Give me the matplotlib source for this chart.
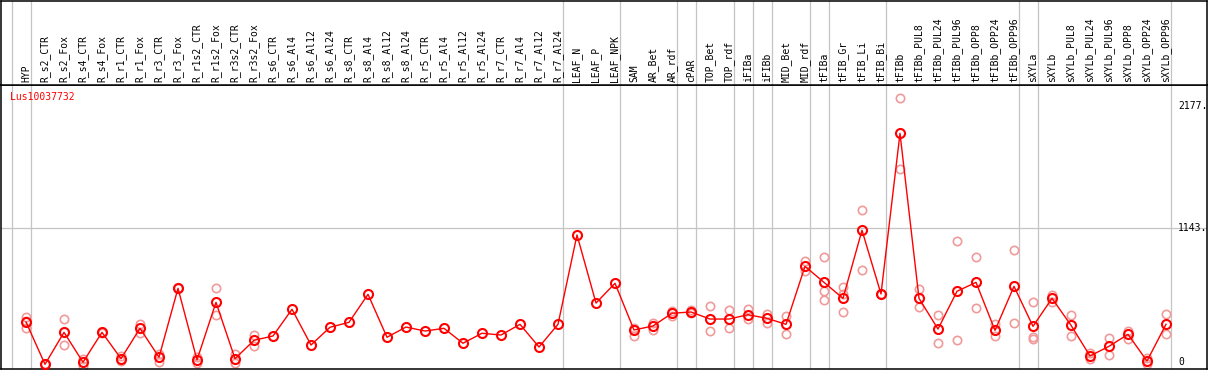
import numpy as np
import matplotlib
matplotlib.use("Agg")
import matplotlib.pyplot as plt
import matplotlib.transforms as mtransforms

categories = ["HYP", "R_s2_CTR", "R_s2_Fox", "R_s4_CTR", "R_s4_Fox", "R_r1_CTR", "R_r1_Fox",
              "R_r3_CTR", "R_r3_Fox", "R_r1s2_CTR", "R_r1s2_Fox", "R_r3s2_CTR", "R_r3s2_Fox",
              "R_s6_CTR", "R_s6_Al4", "R_s6_Al12", "R_s6_Al24", "R_s8_CTR", "R_s8_Al4",
              "R_s8_Al12", "R_s8_Al24", "R_r5_CTR", "R_r5_Al4", "R_r5_Al12", "R_r5_Al24",
              "R_r7_CTR", "R_r7_Al4", "R_r7_Al12", "R_r7_Al24", "LEAF_N", "LEAF_P", "LEAF_NPK",
              "SAM", "AR_Bet", "AR_rdf", "cPAR", "TOP_Bet", "TOP_rdf", "iFIBa", "iFIBb",
              "MID_Bet", "MID_rdf", "tFIBa", "tFIB_Gr", "tFIB_Li", "tFIB_Bi", "tFIBb",
              "tFIBb_PUL8", "tFIBb_PUL24", "tFIBb_PUL96", "tFIBb_OPP8", "tFIBb_OPP24", "tFIBb_OPP96",
              "sXYLa", "sXYLb", "sXYLb_PUL8", "sXYLb_PUL24", "sXYLb_PUL96", "sXYLb_OPP8",
              "sXYLb_OPP24", "sXYLb_OPP96"]

mean_values = [342, -18, 254, 0, 254, 30, 288, 42, 628, 19, 509, 30, 186,
               223, 450, 146, 297, 339, 577, 212, 299, 265, 288, 161, 246, 231, 322, 129, 322,
               1082, 503, 671, 274, 308, 416, 427, 367, 367, 404, 373, 322, 815,
               679, 543, 1122, 580, 1946, 543, 282, 603, 679, 271, 645,
               305, 543, 314, 53, 135, 237, 10, 322]

nan = np.nan
rep1 = [382, -18, 367, 30, 250, 10, 327, 70, 628, -4, 628, 67, 234,
        nan, nan, nan, nan, nan, nan, nan, nan, nan, nan, nan, nan, nan, nan, nan, nan,
        nan, nan, nan, 293, 331, 438, 446, 475, 444, 455, 412, 393, 861,
        892, 637, 1297, 580, 2244, 620, 399, 1028, 892, 322, 952,
        509, 571, 399, 81, 206, 268, 38, 410]
rep2 = [293, -18, 144, -30, 258, 53, 251, -1, 628, 44, 399, -4, 138,
        nan, nan, nan, nan, nan, nan, nan, nan, nan, nan, nan, nan, nan, nan, nan, nan,
        nan, nan, nan, 220, 276, 393, 421, 263, 291, 367, 336, 242, 776,
        605, 577, 784, 580, 1640, 467, 161, 186, 458, 220, 331,
        212, 514, 223, 25, 59, 200, -18, 237]
rep3 = [350, nan, nan, nan, nan, nan, nan, nan, nan, nan, nan, nan, nan,
        nan, nan, nan, nan, nan, nan, nan, nan, nan, nan, nan, nan, nan, nan, nan, nan,
        nan, nan, nan, nan, nan, nan, nan, nan, nan, nan, nan, nan, nan,
        526, 424, nan, nan, nan, nan, nan, nan, nan, nan, nan,
        195, nan, nan, nan, nan, nan, nan, nan]

separators_after = [-1, 0, 28, 31, 34, 35, 37, 38, 39, 41, 42, 45, 52, 53, 60]
gene_name = "Lus10037732"
axis_labels = ["2177.", "1143.", "0"]
axis_values = [2177, 1143, 0]
grid_value = 1143

W, H = 1209, 370
fig = plt.figure(figsize=(W / 100, H / 100), dpi=100)

# pixel geometry
x_first, x_step = 26.0, 19.0
left_px, right_px = 1, 1207
top_px, header_px, bottom_px = 0, 85, 369
y0_px, k = 362.2, 0.1176

xlim = ((left_px - x_first) / x_step, (right_px - x_first) / x_step)
ylim = ((y0_px - bottom_px) / k, (y0_px - header_px) / k)

ax = fig.add_axes([left_px / W, (H - bottom_px) / H, (right_px - left_px) / W, (bottom_px - header_px) / H])
axh = fig.add_axes([left_px / W, (H - header_px) / H, (right_px - left_px) / W, (header_px - top_px - 0.5) / H], sharex=ax)

mono = "DejaVu Sans Mono"
x = np.arange(len(categories))

for a in (ax, axh):
    a.set_xlim(*xlim)
    for s in a.spines.values():
        s.set_color("black")
        s.set_linewidth(1.1)
    a.tick_params(left=False, bottom=False, labelleft=False, labelbottom=False)
    for sep in separators_after:
        a.axvline(sep + 0.24, color="#c4c4c4", lw=0.9, zorder=0)

axh.set_ylim(0, 1)
ax.set_ylim(*ylim)
ax.axhline(grid_value, color="#c4c4c4", lw=0.9, zorder=0)

for i, lab in enumerate(categories):
    axh.text(i, 0.03, lab, rotation=90, ha="center", va="bottom", fontsize=7, family=mono)

rep_color = "#f09a9a"
for rep in (rep1, rep2, rep3):
    ax.plot(x, rep, ls="none", marker="o", ms=6, mfc="none", mec=rep_color, mew=1.2, zorder=2)

ax.plot(x, mean_values, color="red", lw=1.0, marker="o", ms=6.5, mfc="none", mec="red", mew=1.5, zorder=3)

ax.text((10 - left_px) / (right_px - left_px), 1 - (97 - header_px) / (bottom_px - header_px), gene_name,
        transform=ax.transAxes, color="red", fontsize=7, family=mono, ha="left", va="center")

trans = mtransforms.blended_transform_factory(ax.transAxes, ax.transData)
for lab, v in zip(axis_labels, axis_values):
    ax.text((1178 - left_px) / (right_px - left_px), v, lab, transform=trans, fontsize=7, family=mono,
            ha="left", va="center", clip_on=True)

fig.savefig("out.png", dpi=100)
